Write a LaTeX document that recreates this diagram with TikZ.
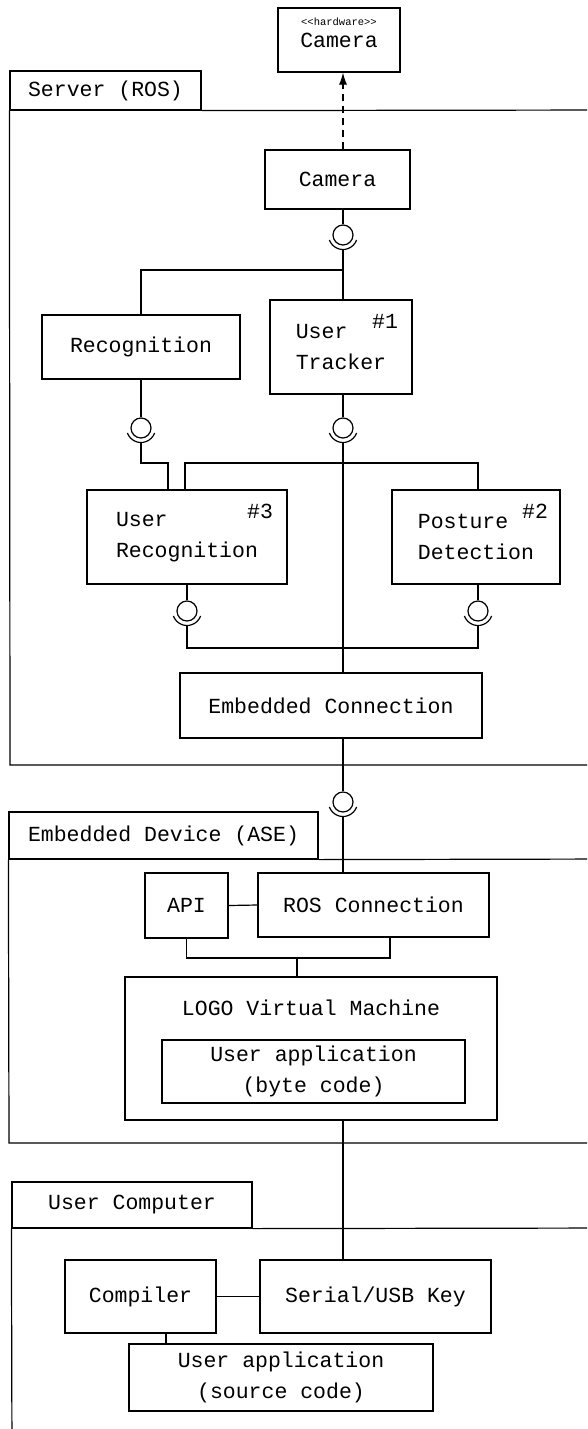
\documentclass[tikz,border=0pt]{standalone}
\usepackage{fontspec}
\setmonofont{Liberation Mono}
\usetikzlibrary{arrows.meta}
\newcommand{\compfont}{\fontsize{21.5}{31}\selectfont\ttfamily}
\newcommand{\stereofont}{\fontsize{10.5}{12}\selectfont\ttfamily}
% cup of a required interface, under the ball #1
\newcommand{\socketcup}[1]{%
  \draw ([shift={(200:14.5pt)}]#1.center) arc[start angle=200, end angle=340, radius=14.5pt];
  \coordinate (#1-cup) at ([yshift=-14.5pt]#1.center);}
\tikzset{
  comp/.style={draw, font=\compfont, align=center, inner sep=0pt},
  multi/.style={comp, align=left},
  tabbox/.style={draw, font=\compfont, inner sep=0pt},
  ball/.style={draw, circle, minimum size=20pt, inner sep=0pt},
  hashlab/.style={font=\compfont, anchor=north east, inner sep=0pt},
}

\begin{document}
\begin{tikzpicture}[x=1pt, y=-1pt, line width=1.2pt]
			\useasboundingbox (0,0) rectangle (587,1429);
			\clip (0,0) rectangle (587,1429);
			
			%%%%% SERVER (ROS) %%%%%
			
			\node[tabbox, minimum width=191pt, minimum height=39pt] (srvtab) at (105.5,90.5) {Server (ROS)};
			\draw (srvtab.south west) -- (10,765) -- (620,765);
			\draw (srvtab.south east) -- (620,110);
			
			\node[comp, minimum width=122pt, minimum height=64pt,
			      label={[font=\stereofont, anchor=north, yshift=-7pt]north:<{}<hardware>{}>}] (hwcam) at (339,40) {\raisebox{-4pt}{Camera}};
			
			\node[comp, minimum width=145pt, minimum height=59pt] (camera) at (337.5,179.5) {Camera};
			\node[ball] (s1) at (343,235) {}; \socketcup{s1}
			
			\node[comp, minimum width=198pt, minimum height=64pt] (recog) at (141,347) {Recognition};
			\node[multi, minimum width=142pt, minimum height=94pt] (tracker) at (341,347) {User\\Tracker};
			\node[hashlab] at ([xshift=-14pt, yshift=-14pt]tracker.north east) {\#1};
			
			\node[ball] (s2) at (141,428) {}; \socketcup{s2}
			\node[ball] (s3) at (343,428) {}; \socketcup{s3}
			
			\node[multi, minimum width=200pt, minimum height=94pt] (urecog) at (187,537) {User\\Recognition};
			\node[hashlab] at ([xshift=-14pt, yshift=-14pt]urecog.north east) {\#3};
			\node[multi, minimum width=168pt, minimum height=94pt] (posture) at (476,537) {Posture\\Detection};
			\node[hashlab] at ([xshift=-12pt, yshift=-14pt]posture.north east) {\#2};
			
			\node[ball] (s4) at (187,611) {}; \socketcup{s4}
			\node[ball] (s5) at (478,611) {}; \socketcup{s5}
			
			\node[comp, minimum width=302pt, minimum height=65pt] (embconn) at (331,705.5) {Embedded Connection};
			\node[ball] (s6) at (343,802) {}; \socketcup{s6}
			
			\draw[dash pattern=on 7pt off 5pt, -{Latex[length=12pt,width=8pt]}] (camera.north -| s1) -- (hwcam.south -| s1);
			\draw (camera.south -| s1) -- (s1.north);
			\draw (s1-cup) -- (s1-cup |- tracker.north);
			\coordinate (j1) at (343,270);
			\draw (j1) -| (recog.north);
			\draw (recog.south) -- (s2.north);
			\draw (tracker.south -| s3) -- (s3.north);
			\coordinate (j2) at (168,463);
			\draw (s2-cup) |- (j2) -- (j2 |- urecog.north);
			\draw (s3-cup) -- (s3 |- embconn.north);
			\coordinate (busL) at (185,463);
			\coordinate (busR) at (478,463);
			\draw (urecog.north -| busL) -- (busL) -- (busR) -- (posture.north -| busR);
			\draw (urecog.south -| s4) -- (s4.north);
			\draw (posture.south -| s5) -- (s5.north);
			\coordinate (bus2) at (343,648);
			\draw (s4-cup) |- (bus2) -| (s5-cup);
			\draw (embconn.south -| s6) -- (s6.north);
			
			%%%%% EMBEDDED DEVICE (ASE) %%%%%
			
			\node[tabbox, minimum width=309pt, minimum height=47pt] (edtab) at (163.5,835.5) {Embedded Device (ASE)};
			\draw (edtab.south west) -- (9,1143) -- (620,1143);
			\draw (edtab.south east) -- (620,859);
			
			\node[comp, minimum width=83pt, minimum height=65pt] (api) at (186.5,905.5) {API};
			\node[comp, minimum width=231pt, minimum height=64pt] (rosconn) at (373.5,905) {ROS Connection};
			\node[draw, minimum width=372pt, minimum height=143pt,
			      label={[font=\compfont, anchor=north, yshift=-20pt]north:LOGO Virtual Machine}] (logovm) at (311,1048.5) {};
			\node[comp, minimum width=303pt, minimum height=63pt] (bytecode) at (313.5,1071.5) {User application\\(byte code)};
			
			\draw (s6-cup) -- (s6 |- rosconn.north);
			\draw (api.east) -- (rosconn.west);
			\coordinate (bus3) at (297,958);
			\coordinate (rosdrop) at (390,958);
			\draw (api.south) |- (rosdrop) -- (rosdrop |- rosconn.south);
			\draw (bus3) -- (bus3 |- logovm.north);
			
			%%%%% USER COMPUTER %%%%%
			
			\node[tabbox, minimum width=240pt, minimum height=46pt] (uctab) at (132,1205) {User Computer};
			\draw (uctab.south west) -- (12,1460);
			\draw (uctab.south east) -- (620,1228);
			
			\node[comp, minimum width=151pt, minimum height=73pt] (compiler) at (140.5,1296.5) {Compiler};
			\node[comp, minimum width=231pt, minimum height=73pt] (serial) at (375.5,1296.5) {Serial/USB Key};
			\node[comp, minimum width=304pt, minimum height=67pt] (srccode) at (281,1377.5) {User application\\(source code)};
			
			\draw (logovm.south -| s6) -- (serial.north -| s6);
			\draw (compiler.east) -- (serial.west);
			\coordinate (cdrop) at (166,1340);
			\draw (compiler.south -| cdrop) -- (srccode.north -| cdrop);
			
		\end{tikzpicture}
\end{document}
